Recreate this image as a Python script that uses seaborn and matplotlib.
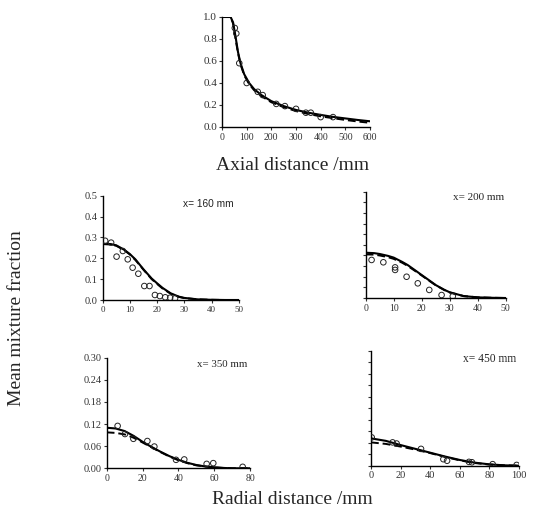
"""
Mean mixture fraction: axial decay and radial profiles
"""
import numpy as np
import pandas as pd
import matplotlib
matplotlib.use('Agg')
import matplotlib.pyplot as plt
import seaborn as sns

# ---- axial profile ----
axial_x = [0, 35, 45, 55, 65, 75, 90, 110, 130, 160, 200, 250, 300, 350, 400, 450, 500, 550, 600]
axial_solid = [1.0, 1.0, 0.95, 0.82, 0.68, 0.58, 0.48, 0.40, 0.345, 0.29, 0.235, 0.19, 0.155, 0.13, 0.11, 0.092, 0.078, 0.064, 0.052]
axial_dash = [1.0, 1.0, 0.94, 0.80, 0.67, 0.57, 0.47, 0.39, 0.335, 0.28, 0.225, 0.18, 0.145, 0.118, 0.097, 0.08, 0.064, 0.05, 0.038]
axial_exp_x = [52, 58, 70, 100, 145, 165, 220, 255, 300, 340, 360, 400, 450]
axial_exp_y = [0.90, 0.85, 0.58, 0.40, 0.32, 0.29, 0.21, 0.19, 0.165, 0.13, 0.13, 0.09, 0.09]

# ---- radial profile x = 160 mm ----
r160 = [0, 3, 5, 8, 10, 12, 15, 18, 20, 22, 25, 28, 30, 35, 40, 45, 50]
r160_solid = [0.27, 0.268, 0.262, 0.24, 0.22, 0.195, 0.147, 0.103, 0.08, 0.058, 0.032, 0.016, 0.01, 0.003, 0.001, 0.0, 0.0]
r160_dash = [0.268, 0.266, 0.26, 0.238, 0.218, 0.192, 0.145, 0.1, 0.077, 0.055, 0.03, 0.015, 0.009, 0.003, 0.001, 0.0, 0.0]
r160_exp_x = [0.9, 3.1, 5.1, 7.4, 9.2, 11.0, 13.1, 15.3, 17.2, 19.2, 21.0, 23.0, 24.8, 26.6]
r160_exp_y = [0.284, 0.275, 0.208, 0.235, 0.195, 0.155, 0.126, 0.067, 0.067, 0.024, 0.019, 0.013, 0.011, 0.008]

# ---- radial profile x = 200 mm ----
r200 = [0, 3, 5, 8, 10, 13, 15, 18, 20, 23, 25, 28, 30, 35, 40, 45, 50]
r200_solid = [0.213, 0.211, 0.207, 0.198, 0.19, 0.17, 0.155, 0.127, 0.108, 0.08, 0.061, 0.039, 0.027, 0.009, 0.003, 0.001, 0.0]
r200_dash = [0.205, 0.204, 0.2, 0.192, 0.184, 0.166, 0.151, 0.124, 0.106, 0.078, 0.06, 0.038, 0.026, 0.009, 0.003, 0.001, 0.0]
r200_exp_x = [2.1, 6.3, 10.5, 10.5, 14.6, 18.6, 22.7, 27.1, 31.1]
r200_exp_y = [0.179, 0.168, 0.144, 0.132, 0.100, 0.069, 0.038, 0.014, 0.008]

# ---- radial profile x = 350 mm ----
r350 = [0, 5, 10, 15, 20, 25, 30, 35, 40, 45, 50, 55, 60, 65, 70, 80]
r350_solid = [0.11, 0.108, 0.101, 0.088, 0.072, 0.058, 0.045, 0.033, 0.023, 0.015, 0.009, 0.005, 0.003, 0.001, 0.0, 0.0]
r350_dash = [0.0975, 0.096, 0.092, 0.083, 0.07, 0.057, 0.044, 0.032, 0.022, 0.014, 0.008, 0.005, 0.002, 0.001, 0.0, 0.0]
r350_exp_x = [6.1, 10.2, 14.9, 22.7, 26.6, 38.7, 43.3, 55.8, 59.5, 75.9]
r350_exp_y = [0.115, 0.093, 0.080, 0.074, 0.059, 0.023, 0.024, 0.012, 0.014, 0.004]

# ---- radial profile x = 450 mm ----
r450 = [0, 10, 20, 30, 40, 50, 60, 70, 80, 90, 100]
r450_solid = [0.0715, 0.065, 0.054, 0.044, 0.034, 0.024, 0.015, 0.008, 0.0035, 0.001, 0.0]
r450_dash = [0.061, 0.057, 0.05, 0.042, 0.033, 0.023, 0.014, 0.007, 0.003, 0.001, 0.0]
r450_exp_x = [0.5, 14.6, 17.3, 33.8, 48.9, 51.4, 66.2, 68.2, 82.2, 98.4]
r450_exp_y = [0.074, 0.061, 0.058, 0.044, 0.017, 0.013, 0.010, 0.009, 0.004, 0.002]

W, H = 539, 522
sns.set_style("ticks")
plt.rcParams['font.family'] = ['Liberation Serif', 'DejaVu Serif']
plt.rcParams['axes.linewidth'] = 1.0
plt.rcParams['xtick.major.size'] = 2.5
plt.rcParams['ytick.major.size'] = 2.5
plt.rcParams['xtick.major.pad'] = 1.5
plt.rcParams['ytick.major.pad'] = 1.0
plt.rcParams['xtick.color'] = '#333333'
plt.rcParams['ytick.color'] = '#333333'

fig = plt.figure(figsize=(W / 100, H / 100), dpi=100)


def px_axes(left, right, top, bottom):
    return fig.add_axes([left / W, 1 - bottom / H, (right - left) / W, (bottom - top) / H])


def draw_panel(ax, x, solid, dash, ex, ey, xmax, ymax, xticks, yticks, ylabels, fmt, xsize=6.5, ysize=7.5):
    sns.lineplot(x=x, y=dash, ax=ax, color='black', lw=1.4, linestyle=(0, (4, 2)))
    sns.lineplot(x=x, y=solid, ax=ax, color='black', lw=1.5)
    sns.scatterplot(x=ex, y=ey, ax=ax, marker='o', s=16, facecolor='none',
                    edgecolor='#222222', linewidth=0.7, zorder=5)
    ax.set_xlim(0, xmax)
    ax.set_ylim(0, ymax)
    ax.set_xticks(xticks)
    ax.set_yticks(yticks)
    ax.set_xticklabels([str(t) for t in xticks], fontsize=xsize)
    if ylabels:
        ax.set_yticklabels([fmt.format(t) for t in yticks], fontsize=ysize)
    else:
        ax.set_yticklabels([])
    sns.despine(ax=ax)
    ax.set_xlabel('')
    ax.set_ylabel('')
    for s in ['left', 'bottom']:
        ax.spines[s].set_color('black')


# top axial plot
ax0 = px_axes(222, 370, 17, 127)
draw_panel(ax0, axial_x, axial_solid, axial_dash, axial_exp_x, axial_exp_y,
           600, 1.0, list(range(0, 601, 100)), [0, 0.2, 0.4, 0.6, 0.8, 1.0], True, '{:.1f}', 7, 8)

# radial panels
ax1 = px_axes(102.7, 238.7, 195.7, 300)
draw_panel(ax1, r160, r160_solid, r160_dash, r160_exp_x, r160_exp_y,
           50, 0.5, [0, 10, 20, 30, 40, 50], [0, 0.1, 0.2, 0.3, 0.4, 0.5], True, '{:.1f}', 6.5, 7.5)
ax1.text(0.59, 0.92, 'x= 160 mm', transform=ax1.transAxes, fontsize=7.3, va='center',
         family=['Liberation Sans'], color='#222222')

ax2 = px_axes(365.7, 505.7, 191.7, 298)
draw_panel(ax2, r200, r200_solid, r200_dash, r200_exp_x, r200_exp_y,
           50, 0.5, [0, 10, 20, 30, 40, 50], list(np.arange(0, 0.51, 0.05)), False, '{:.2f}', 7)
ax2.text(0.624, 0.95, 'x= 200 mm', transform=ax2.transAxes, fontsize=8, va='center')

ax3 = px_axes(106.7, 250, 357.7, 468.3)
draw_panel(ax3, r350, r350_solid, r350_dash, r350_exp_x, r350_exp_y,
           80, 0.30, [0, 20, 40, 60, 80], [0, 0.06, 0.12, 0.18, 0.24, 0.30], True, '{:.2f}', 7, 7.5)
ax3.text(0.628, 0.94, 'x= 350 mm', transform=ax3.transAxes, fontsize=7.8, va='center')

ax4 = px_axes(371, 519, 351, 465.7)
draw_panel(ax4, r450, r450_solid, r450_dash, r450_exp_x, r450_exp_y,
           100, 0.30, [0, 20, 40, 60, 80, 100], list(np.arange(0, 0.301, 0.03)), False, '{:.2f}', 7.5)
ax4.text(0.62, 0.93, 'x= 450 mm', transform=ax4.transAxes, fontsize=8.3, va='center')

fig.text(293 / W, 1 - 165 / H, 'Axial distance /mm', ha='center', va='center', fontsize=14)
fig.text(292 / W, 1 - 500 / H, 'Radial distance /mm', ha='center', va='center', fontsize=14)
fig.text(17 / W, 1 - 318 / H, 'Mean mixture fraction', ha='center', va='center',
         rotation=90, fontsize=14)

fig.savefig('out.png', dpi=100, facecolor='white')
